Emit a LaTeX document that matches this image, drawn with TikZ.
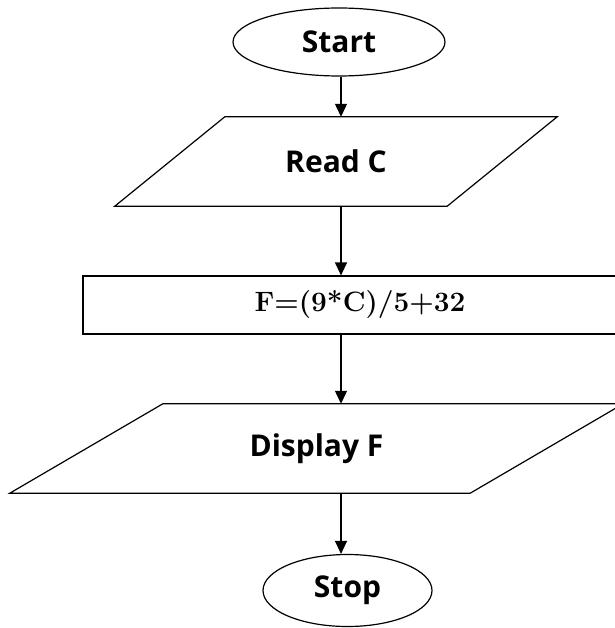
\documentclass[tikz,border=0pt]{standalone}
\usepackage{fontspec}
\setsansfont{Open Sans}
\usetikzlibrary{shapes.geometric,arrows.meta,calc}
\tikzset{
  lbl/.style={font=\sffamily\bfseries\fontsize{30}{34}\selectfont},
  term/.style={ellipse,draw,line width=1.2pt,inner sep=0pt,lbl},
  iobox/.style={rectangle,inner sep=0pt,lbl},
  procbox/.style={rectangle,draw,line width=1.2pt,inner sep=0pt,
    font=\bfseries\fontsize{28}{32}\selectfont},
  shapeline/.style={line width=1.2pt,line join=miter},
  arr/.style={line width=1.2pt,-{Triangle[length=13pt,width=12pt]}}
}
\begin{document}
\begin{tikzpicture}[x=1pt,y=-1pt]
\useasboundingbox (0,0) rectangle (614,628);
\node[term,minimum width=212pt,minimum height=68pt] (start) at (339,42) {Start};
\node[iobox,minimum width=442pt,minimum height=89pt] (read) at (336,161.5) {Read C};
\draw[shapeline] ($(read.north west)+(110,0)$) -- (read.north east)
  -- ($(read.south east)+(-110,0)$) -- (read.south west) -- cycle;
\node[procbox,minimum width=554pt,minimum height=58pt] (calc) at (360,305) {F=(9*C)/5+32};
\node[iobox,minimum width=613pt,minimum height=89pt] (disp) at (316.5,448.5) {Display F};
\draw[shapeline] ($(disp.north west)+(153,0)$) -- (disp.north east)
  -- ($(disp.south east)+(-153,0)$) -- (disp.south west) -- cycle;
\node[term,minimum width=169pt,minimum height=72pt] (stop) at (347.5,590.5) {Stop};
\coordinate (ax) at (341,0);
\draw[arr] (start.south -| ax) -- (read.north -| ax);
\draw[arr] (read.south -| ax) -- (calc.north -| ax);
\draw[arr] (calc.south -| ax) -- (disp.north -| ax);
\draw[arr] (disp.south -| ax) -- (stop.north -| ax);
\end{tikzpicture}
\end{document}
